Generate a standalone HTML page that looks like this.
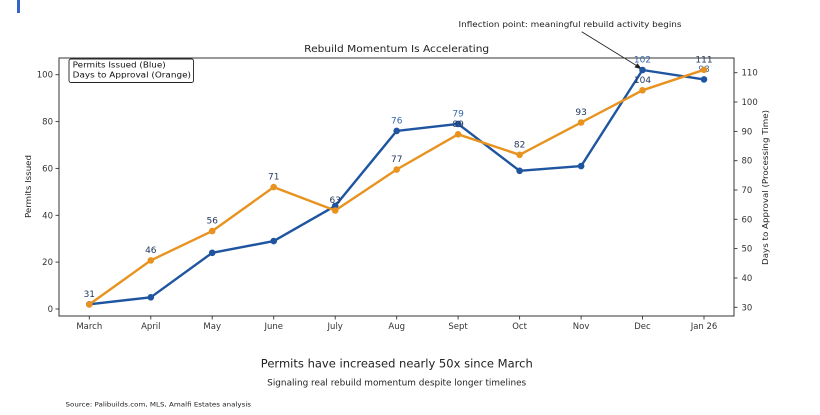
<!DOCTYPE html>
<html><head><meta charset="utf-8"><style>
html,body{margin:0;padding:0;background:#fff;}
svg{display:block;}
text{font-family:"DejaVu Sans","Liberation Sans",sans-serif;}
</style></head><body>
<svg width="820" height="415" viewBox="0 0 820 415" xmlns="http://www.w3.org/2000/svg">
<rect x="0" y="0" width="820" height="415" fill="#fff"/>
<rect x="17" y="0" width="3" height="13" fill="#3565c8"/>

<!-- title -->
<text x="396.7" y="52" font-size="10" fill="#222" text-anchor="middle" textLength="185" lengthAdjust="spacingAndGlyphs">Rebuild Momentum Is Accelerating</text>

<!-- annotation -->
<text x="570" y="27" font-size="7.5" fill="#222" text-anchor="middle" textLength="223" lengthAdjust="spacingAndGlyphs">Inflection point: meaningful rebuild activity begins</text>
<line x1="581.7" y1="31.7" x2="640.5" y2="68" stroke="#222" stroke-width="0.9"/>
<polygon points="642.3,69.5 634.5,67.4 637.4,63.2" fill="#222"/>

<!-- axes frame -->
<rect x="59" y="58" width="675" height="258" fill="none" stroke="#333" stroke-width="1"/>

<!-- left ticks -->
<g stroke="#333" stroke-width="0.9">
<line x1="55.5" y1="309" x2="59" y2="309"/>
<line x1="55.5" y1="262.1" x2="59" y2="262.1"/>
<line x1="55.5" y1="215.3" x2="59" y2="215.3"/>
<line x1="55.5" y1="168.4" x2="59" y2="168.4"/>
<line x1="55.5" y1="121.6" x2="59" y2="121.6"/>
<line x1="55.5" y1="74.7" x2="59" y2="74.7"/>
</g>
<g font-size="8.5" fill="#333" text-anchor="end">
<text x="53" y="312">0</text>
<text x="53" y="265.1">20</text>
<text x="53" y="218.3">40</text>
<text x="53" y="171.4">60</text>
<text x="53" y="124.6">80</text>
<text x="53" y="77.7">100</text>
</g>

<!-- right ticks -->
<g stroke="#333" stroke-width="0.9">
<line x1="734" y1="307.3" x2="737.5" y2="307.3"/>
<line x1="734" y1="278.0" x2="737.5" y2="278.0"/>
<line x1="734" y1="248.6" x2="737.5" y2="248.6"/>
<line x1="734" y1="219.3" x2="737.5" y2="219.3"/>
<line x1="734" y1="190.0" x2="737.5" y2="190.0"/>
<line x1="734" y1="160.7" x2="737.5" y2="160.7"/>
<line x1="734" y1="131.4" x2="737.5" y2="131.4"/>
<line x1="734" y1="102.0" x2="737.5" y2="102.0"/>
<line x1="734" y1="72.7" x2="737.5" y2="72.7"/>
</g>
<g font-size="8.5" fill="#333">
<text x="741.5" y="310.3">30</text>
<text x="741.5" y="281">40</text>
<text x="741.5" y="251.6">50</text>
<text x="741.5" y="222.3">60</text>
<text x="741.5" y="193">70</text>
<text x="741.5" y="163.7">80</text>
<text x="741.5" y="134.4">90</text>
<text x="741.5" y="105">100</text>
<text x="741.5" y="75.7">110</text>
</g>

<!-- x ticks -->
<g stroke="#333" stroke-width="0.9">
<line x1="89.3" y1="316" x2="89.3" y2="319.5"/>
<line x1="150.8" y1="316" x2="150.8" y2="319.5"/>
<line x1="212.2" y1="316" x2="212.2" y2="319.5"/>
<line x1="273.7" y1="316" x2="273.7" y2="319.5"/>
<line x1="335.2" y1="316" x2="335.2" y2="319.5"/>
<line x1="396.7" y1="316" x2="396.7" y2="319.5"/>
<line x1="458.1" y1="316" x2="458.1" y2="319.5"/>
<line x1="519.6" y1="316" x2="519.6" y2="319.5"/>
<line x1="581.1" y1="316" x2="581.1" y2="319.5"/>
<line x1="642.5" y1="316" x2="642.5" y2="319.5"/>
<line x1="704" y1="316" x2="704" y2="319.5"/>
</g>
<g font-size="8.5" fill="#333" text-anchor="middle">
<text x="89.3" y="329">March</text>
<text x="150.8" y="329">April</text>
<text x="212.2" y="329">May</text>
<text x="273.7" y="329">June</text>
<text x="335.2" y="329">July</text>
<text x="396.7" y="329">Aug</text>
<text x="458.1" y="329">Sept</text>
<text x="519.6" y="329">Oct</text>
<text x="581.1" y="329">Nov</text>
<text x="642.5" y="329">Dec</text>
<text x="704" y="329">Jan 26</text>
</g>

<!-- axis labels -->
<text transform="translate(31,186.5) rotate(-90)" font-size="8" fill="#222" text-anchor="middle" textLength="63" lengthAdjust="spacingAndGlyphs">Permits Issued</text>
<text transform="translate(768,187.5) rotate(-90)" font-size="8" fill="#222" text-anchor="middle" textLength="155" lengthAdjust="spacingAndGlyphs">Days to Approval (Processing Time)</text>

<!-- blue series -->
<polyline fill="none" stroke="#1f55a0" stroke-width="2.4" stroke-linejoin="round" points="89.3,304.3 150.8,297.3 212.2,252.8 273.7,241.1 335.2,205.9 396.7,130.9 458.1,123.9 519.6,170.8 581.1,166.1 642.5,70.0 704,79.4"/>
<g fill="#1f55a0">
<circle cx="89.3" cy="304.3" r="3.3"/><circle cx="150.8" cy="297.3" r="3.3"/><circle cx="212.2" cy="252.8" r="3.3"/><circle cx="273.7" cy="241.1" r="3.3"/><circle cx="335.2" cy="205.9" r="3.3"/><circle cx="396.7" cy="130.9" r="3.3"/><circle cx="458.1" cy="123.9" r="3.3"/><circle cx="519.6" cy="170.8" r="3.3"/><circle cx="581.1" cy="166.1" r="3.3"/><circle cx="642.5" cy="70.0" r="3.3"/><circle cx="704" cy="79.4" r="3.3"/>
</g>
<g font-size="9" fill="#3466aa" text-anchor="middle">
<text x="396.7" y="123.4">76</text>
<text x="458.1" y="116.4">79</text>
<text x="642.5" y="62.5">102</text>
<text x="704" y="71.9">98</text>
</g>

<!-- orange series -->
<polyline fill="none" stroke="#e89320" stroke-width="2.4" stroke-linejoin="round" points="89.3,304.4 150.8,260.4 212.2,231.1 273.7,187.1 335.2,210.5 396.7,169.5 458.1,134.3 519.6,154.8 581.1,122.5 642.5,90.3 704,69.8"/>
<g fill="#e89320">
<circle cx="89.3" cy="304.4" r="3.3"/><circle cx="150.8" cy="260.4" r="3.3"/><circle cx="212.2" cy="231.1" r="3.3"/><circle cx="273.7" cy="187.1" r="3.3"/><circle cx="335.2" cy="210.5" r="3.3"/><circle cx="396.7" cy="169.5" r="3.3"/><circle cx="458.1" cy="134.3" r="3.3"/><circle cx="519.6" cy="154.8" r="3.3"/><circle cx="581.1" cy="122.5" r="3.3"/><circle cx="642.5" cy="90.3" r="3.3"/><circle cx="704" cy="69.8" r="3.3"/>
</g>
<g font-size="9" fill="#24395e" text-anchor="middle">
<text x="89.3" y="296.9">31</text>
<text x="150.8" y="252.9">46</text>
<text x="212.2" y="223.6">56</text>
<text x="273.7" y="179.6">71</text>
<text x="335.2" y="203">63</text>
<text x="396.7" y="162">77</text>
<text x="458.1" y="126.8">89</text>
<text x="519.6" y="147.3">82</text>
<text x="581.1" y="115">93</text>
<text x="642.5" y="82.8">104</text>
<text x="704" y="62.3">111</text>
</g>

<!-- legend -->
<rect x="69" y="59" width="124.5" height="23.5" rx="2" ry="2" fill="#fff" stroke="#222" stroke-width="0.9"/>
<text x="72.7" y="67.5" font-size="8" fill="#111" textLength="93" lengthAdjust="spacingAndGlyphs">Permits Issued (Blue)</text>
<text x="72.7" y="77.5" font-size="8" fill="#111" textLength="118.3" lengthAdjust="spacingAndGlyphs">Days to Approval (Orange)</text>

<!-- captions -->
<text x="396.8" y="367.7" font-size="11.5" fill="#222" text-anchor="middle" textLength="272" lengthAdjust="spacingAndGlyphs">Permits have increased nearly 50x since March</text>
<text x="396.7" y="385.7" font-size="8.5" fill="#222" text-anchor="middle" textLength="259" lengthAdjust="spacingAndGlyphs">Signaling real rebuild momentum despite longer timelines</text>
<text x="65.5" y="406.5" font-size="6.5" fill="#222" textLength="185.5" lengthAdjust="spacingAndGlyphs">Source: Palibuilds.com, MLS, Amalfi Estates analysis</text>
</svg>
</body></html>
